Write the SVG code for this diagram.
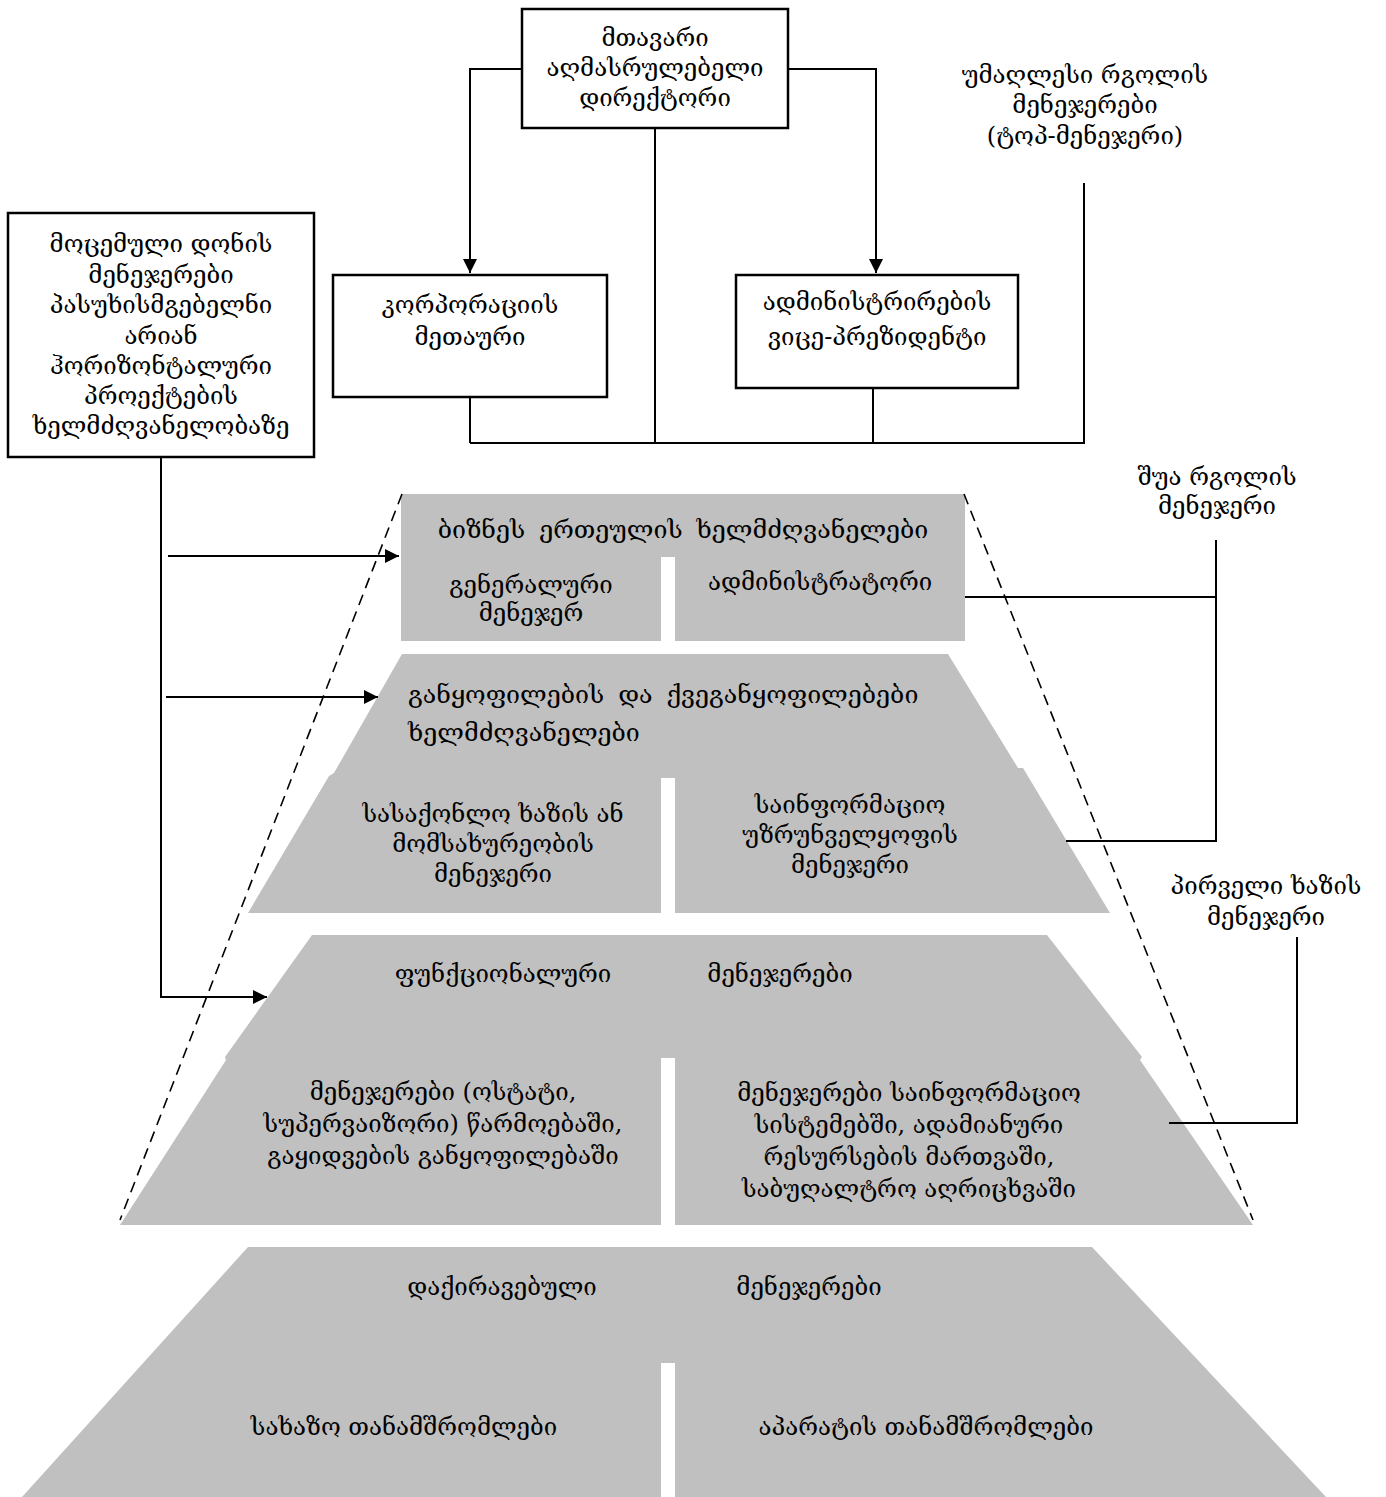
<svg xmlns="http://www.w3.org/2000/svg" width="1386" height="1497" viewBox="0 0 1386 1497">
<style>
text{font-family:"DejaVu Serif","DejaVu Sans",serif;font-size:24px;fill:#000;text-anchor:middle}
.box{fill:#fff;stroke:#000;stroke-width:2.5}
.ln{fill:none;stroke:#000;stroke-width:2}
.dash{fill:none;stroke:#000;stroke-width:1.6;stroke-dasharray:11 7}
.tier{fill:#c0c0c0}
.gap{fill:#fff}
.big{font-size:25px;word-spacing:6px}
.left{text-anchor:start}
</style>
<defs>
<marker id="ah2" viewBox="0 0 10 10" refX="10" refY="5" markerWidth="14" markerHeight="14" markerUnits="userSpaceOnUse" orient="auto">
<path d="M0,0 L10,5 L0,10 z" fill="#000"/>
</marker>
</defs>

<g id="pyramid">
<g id="tier1">
<polygon class="tier" points="401,494 965,494 965,641 401,641"/>
<rect class="gap" x="661" y="557" width="14" height="84"/>
</g>
<g id="tier2">
<polygon class="tier" points="402,654 948,654 1018,768 1023,768 1110,913 248,913 329,776 334,773"/>
<rect class="gap" x="661" y="778" width="14" height="135"/>
</g>
<g id="tier3">
<polygon class="tier" points="312,935 1047,935 1142,1057 1140,1060 1253,1225 120,1225 226,1060 225,1057"/>
<rect class="gap" x="661" y="1058" width="14" height="167"/>
</g>
<g id="tier4">
<polygon class="tier" points="248,1247 1092,1247 1326,1497 22,1497"/>
<rect class="gap" x="661" y="1363" width="14" height="134"/>
</g>
</g>

<g id="connectors">
<polyline class="ln" points="522,69 470,69 470,273" marker-end="url(#ah2)"/>
<polyline class="ln" points="788,69 876,69 876,273" marker-end="url(#ah2)"/>
<line class="ln" x1="655" y1="128" x2="655" y2="443"/>
<line class="ln" x1="470" y1="397" x2="470" y2="443"/>
<line class="ln" x1="873" y1="388" x2="873" y2="443"/>
<polyline class="ln" points="470,443 1084,443 1084,183"/>
<polyline class="ln" points="161,457 161,997 267,997" marker-end="url(#ah2)"/>
<line class="ln" x1="168" y1="556" x2="399" y2="556" marker-end="url(#ah2)"/>
<line class="ln" x1="166" y1="697" x2="378" y2="697" marker-end="url(#ah2)"/>
<line class="dash" x1="402" y1="494" x2="120" y2="1220"/>
<line class="dash" x1="964" y1="494" x2="1253" y2="1220"/>
<polyline class="ln" points="965,597 1216,597"/>
<polyline class="ln" points="1216,540 1216,841 1066,841"/>
<polyline class="ln" points="1297,937 1297,1123 1169,1123"/>
</g>

<g id="ceo">
<rect class="box" x="522" y="9" width="266" height="119"/>
<text x="655" y="46">მთავარი</text>
<text x="655" y="76">აღმასრულებელი</text>
<text x="655" y="106">დირექტორი</text>
</g>
<g id="corp-head">
<rect class="box" x="333" y="275" width="274" height="122"/>
<text x="470" y="313">კორპორაციის</text>
<text x="470" y="345">მეთაური</text>
</g>
<g id="vp-admin">
<rect class="box" x="736" y="275" width="282" height="113"/>
<text x="877" y="310">ადმინისტრირების</text>
<text x="877" y="345">ვიცე-პრეზიდენტი</text>
</g>
<g id="top-managers">
<text x="1085" y="83">უმაღლესი რგოლის</text>
<text x="1085" y="113">მენეჯერები</text>
<text x="1085" y="144">(ტოპ-მენეჯერი)</text>
</g>
<g id="level-managers">
<rect class="box" x="8" y="213" width="306" height="244"/>
<text x="161" y="252">მოცემული დონის</text>
<text x="161" y="283">მენეჯერები</text>
<text x="161" y="313">პასუხისმგებელნი</text>
<text x="161" y="344">არიან</text>
<text x="161" y="374">ჰორიზონტალური</text>
<text x="161" y="404">პროექტების</text>
<text x="161" y="434">ხელმძღვანელობაზე</text>
</g>
<g id="middle-managers">
<text x="1217" y="485">შუა რგოლის</text>
<text x="1217" y="514">მენეჯერი</text>
</g>
<g id="first-line">
<text x="1266" y="894">პირველი ხაზის</text>
<text x="1266" y="925">მენეჯერი</text>
</g>

<g id="business-unit">
<text class="big" x="683" y="538">ბიზნეს ერთეულის ხელმძღვანელები</text>
<text x="531" y="593">გენერალური</text>
<text x="531" y="621">მენეჯერ</text>
<text x="820" y="590">ადმინისტრატორი</text>
</g>
<g id="divisions">
<text class="big left" x="408" y="703">განყოფილების და ქვეგანყოფილებები</text>
<text class="big left" x="408" y="741">ხელმძღვანელები</text>
<text x="493" y="822">სასაქონლო ხაზის ან</text>
<text x="493" y="852">მომსახურეობის</text>
<text x="493" y="882">მენეჯერი</text>
<text x="850" y="813">საინფორმაციო</text>
<text x="850" y="843">უზრუნველყოფის</text>
<text x="850" y="873">მენეჯერი</text>
</g>
<g id="functional">
<text x="503" y="982">ფუნქციონალური</text>
<text x="780" y="982">მენეჯერები</text>
<text x="443" y="1100">მენეჯერები (ოსტატი,</text>
<text x="443" y="1132">სუპერვაიზორი) წარმოებაში,</text>
<text x="443" y="1164">გაყიდვების განყოფილებაში</text>
<text x="909" y="1101">მენეჯერები საინფორმაციო</text>
<text x="909" y="1133">სისტემებში, ადამიანური</text>
<text x="909" y="1165">რესურსების მართვაში,</text>
<text x="909" y="1197">საბუღალტრო აღრიცხვაში</text>
</g>
<g id="employed">
<text x="502" y="1295">დაქირავებული</text>
<text x="809" y="1295">მენეჯერები</text>
<text x="404" y="1435">სახაზო თანამშრომლები</text>
<text x="926" y="1435">აპარატის თანამშრომლები</text>
</g>
</svg>
